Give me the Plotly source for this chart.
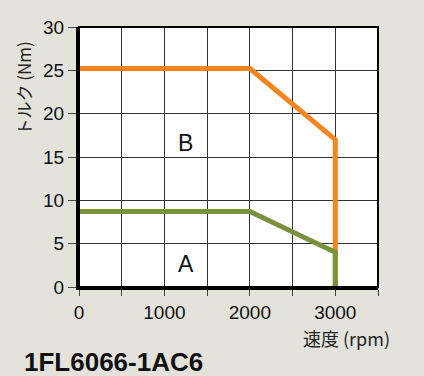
import plotly.graph_objects as go

# Speed-torque characteristic of servo motor 1FL6066-1AC6
speed_b = [0, 2000, 3000, 3000]
torque_b = [25.2, 25.2, 17.0, 0]
speed_a = [0, 2000, 3000, 3000]
torque_a = [8.7, 8.7, 4.0, 0]

x_ticks = [0, 500, 1000, 1500, 2000, 2500, 3000, 3500]
x_tick_text = ["0", "", "1000", "", "2000", "", "3000", ""]
y_ticks = [0, 5, 10, 15, 20, 25, 30]

zone_labels = ["B", "A"]
zone_label_pos = [(1250, 16.6), (1250, 2.6)]

ORANGE = "#f5851f"
GREEN = "#77913c"
BG = "#e3e3dc"
FONT = "Liberation Sans, Arial, sans-serif"
JP_FONT = "Noto Sans CJK JP, sans-serif"

fig = go.Figure()
fig.add_trace(go.Scatter(x=speed_b, y=torque_b, mode="lines",
                         line=dict(color=ORANGE, width=5), hoverinfo="skip"))
fig.add_trace(go.Scatter(x=speed_a, y=torque_a, mode="lines",
                         line=dict(color=GREEN, width=5), hoverinfo="skip"))

for text, (xx, yy) in zip(zone_labels, zone_label_pos):
    fig.add_annotation(x=xx, y=yy, text=text, showarrow=False,
                       font=dict(family=FONT, size=23, color="#111"))

# axis titles and model name
fig.add_annotation(xref="paper", yref="paper", x=-0.186, y=0.765,
                   xanchor="center", yanchor="middle",
                   text="トルク (Nm)", textangle=-90, showarrow=False,
                   font=dict(family=JP_FONT, size=17, color="#222"))
fig.add_annotation(xref="paper", yref="paper", x=0.893, y=-0.195,
                   xanchor="center", yanchor="middle",
                   text="速度 (rpm)", showarrow=False,
                   font=dict(family=JP_FONT, size=18, color="#222"))
fig.add_annotation(xref="paper", yref="paper", x=-0.19, y=-0.288,
                   xanchor="left", yanchor="middle",
                   text="<b>1FL6066-1AC6</b>", showarrow=False,
                   font=dict(family=FONT, size=26, color="#111"))

# frame top/right edges
fig.add_shape(type="rect", xref="paper", yref="paper", x0=0, y0=0, x1=1, y1=1,
              line=dict(color="black", width=2), layer="above")

fig.update_xaxes(range=[0, 3500], tickvals=x_ticks, ticktext=x_tick_text,
                 showgrid=True, gridcolor="#333", gridwidth=1,
                 showline=True, linecolor="black", linewidth=3,
                 ticks="outside", ticklen=6, tickcolor="#444", tickwidth=1,
                 tickfont=dict(family=FONT, size=19, color="#111"),
                 zeroline=False, fixedrange=True)
fig.update_yaxes(range=[0, 30], tickvals=y_ticks,
                 showgrid=True, gridcolor="#333", gridwidth=1,
                 showline=True, linecolor="black", linewidth=3,
                 ticks="outside", ticklen=8, tickcolor="#444", tickwidth=1,
                 tickfont=dict(family=FONT, size=19, color="#111"),
                 zeroline=False, fixedrange=True)

fig.update_layout(width=424, height=376,
                  margin=dict(l=79, r=46, t=27, b=89),
                  paper_bgcolor=BG, plot_bgcolor="white",
                  showlegend=False)

fig.write_html("out.html", config={"displayModeBar": False})
